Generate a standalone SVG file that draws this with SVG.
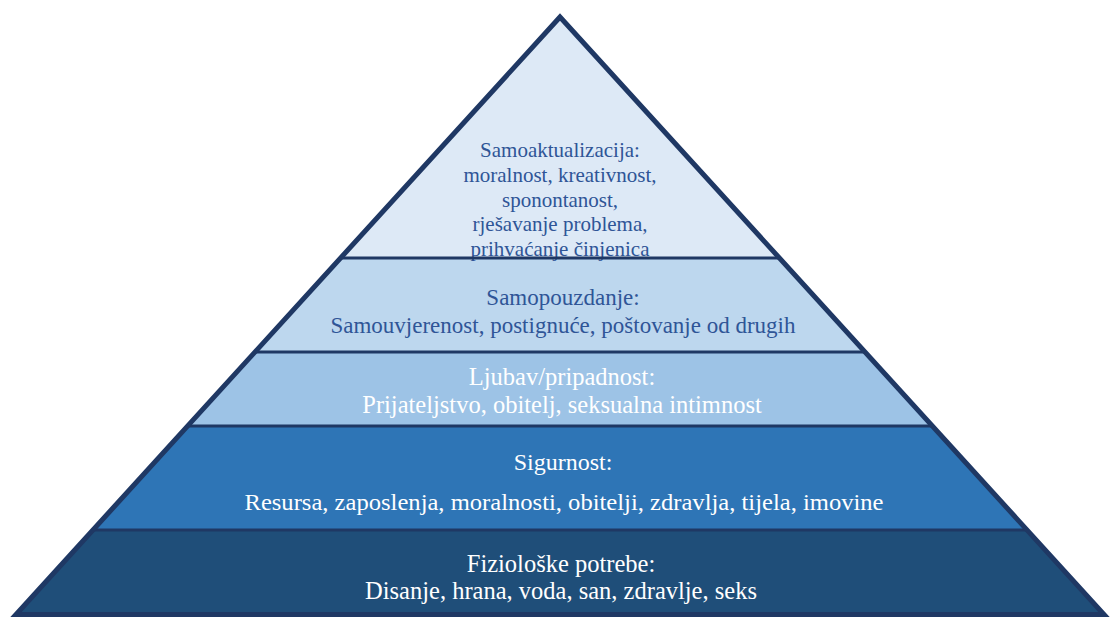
<svg xmlns="http://www.w3.org/2000/svg" width="1110" height="619" viewBox="0 0 1110 619">
<style>
.t{text-anchor:middle}
.dk{fill:#2f5597}
.wh{fill:#ffffff}
.sep{stroke:#1f3864;stroke-width:3}
</style>
<defs>
<clipPath id="tri"><polygon points="560,14 12,617 1108,617"/></clipPath>
</defs>
<rect width="1110" height="619" fill="#ffffff"/>
<g id="layers" clip-path="url(#tri)">
<rect x="0" y="0" width="1110" height="258" fill="#dde9f6"/>
<rect x="0" y="258" width="1110" height="94" fill="#bdd7ee"/>
<rect x="0" y="352" width="1110" height="74" fill="#9dc3e6"/>
<rect x="0" y="426" width="1110" height="104" fill="#2e75b6"/>
<rect x="0" y="530" width="1110" height="89" fill="#1f4e79"/>
</g>
<g font-family="'Liberation Serif', 'Times New Roman', serif">
<g id="node-top" font-size="21">
<text class="t dk" x="560" y="157">Samoaktualizacija:</text>
<text class="t dk" x="560" y="182">moralnost, kreativnost,</text>
<text class="t dk" x="560" y="207">sponontanost,</text>
<text class="t dk" x="560" y="231">rješavanje problema,</text>
<text class="t dk" x="560" y="256">prihvaćanje činjenica</text>
</g>
<g id="node-esteem" font-size="23">
<text class="t dk" x="563" y="305">Samopouzdanje:</text>
<text class="t dk" x="563" y="333">Samouvjerenost, postignuće, poštovanje od drugih</text>
</g>
<g id="node-love" font-size="24.5">
<text class="t wh" x="562" y="385">Ljubav/pripadnost:</text>
<text class="t wh" x="562" y="413">Prijateljstvo, obitelj, seksualna intimnost</text>
</g>
<g id="node-safety" font-size="24">
<text class="t wh" x="563" y="470">Sigurnost:</text>
<text class="t wh" x="564" y="510" textLength="639" lengthAdjust="spacingAndGlyphs">Resursa, zaposlenja, moralnosti, obitelji, zdravlja, tijela, imovine</text>
</g>
<g id="node-phys" font-size="24.5">
<text class="t wh" x="561" y="572">Fiziološke potrebe:</text>
<text class="t wh" x="561" y="599">Disanje, hrana, voda, san, zdravlje, seks</text>
</g>
</g>
<g id="connectors" clip-path="url(#tri)">
<line class="sep" x1="0" y1="258" x2="1110" y2="258"/>
<line class="sep" x1="0" y1="352" x2="1110" y2="352"/>
<line class="sep" x1="0" y1="426" x2="1110" y2="426"/>
<line class="sep" x1="0" y1="530" x2="1110" y2="530"/>
</g>
<polygon id="outline" points="560,17 16,614.5 1104,614.5" fill="none" stroke="#1f3864" stroke-width="5" stroke-linejoin="miter"/>
</svg>
